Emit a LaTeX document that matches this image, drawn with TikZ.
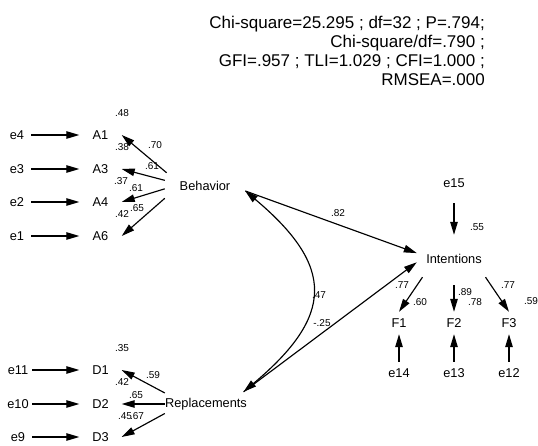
\documentclass[tikz,border=0pt]{standalone}
\usepackage{fontspec}
\setmainfont{Liberation Sans}
\usetikzlibrary{arrows.meta}

\tikzset{
    arr/.style={-{Triangle[length=13pt,width=7.5pt]}, line width=1.15pt},
    cov/.style={{Triangle[length=13pt,width=7.5pt]}-{Triangle[length=13pt,width=7.5pt]}, line width=1.15pt},
    obsbox/.style={minimum width=42pt, minimum height=22pt, inner sep=0pt, font=\fontsize{12.8}{14}\selectfont},
    errnode/.style={minimum width=28pt, minimum height=22pt, inner sep=0pt, font=\fontsize{12.8}{14}\selectfont},
    latent/.style={minimum width=80pt, minimum height=26pt, inner sep=0pt, font=\fontsize{12.8}{14}\selectfont},
    coef/.style={inner sep=0pt, font=\fontsize{10}{11}\selectfont}
}

\begin{document}
\begin{tikzpicture}[x=1pt, y=-1pt]
    \useasboundingbox (0,0) rectangle (538,446);

    % Fit indices
    \node[anchor=north east, inner sep=0pt, align=right, font=\fontsize{17}{19.3}\selectfont] (fit) at (485,15.5)
        {Chi-square=25.295 ; df=32 ; P=.794;\\ Chi-square/df=.790 ;\\ GFI=.957 ; TLI=1.029 ; CFI=1.000 ;\\ RMSEA=.000};

    % Latent variables
    \node[latent] (beh) at (205,186) {Behavior};
    \node[latent, minimum width=82pt, minimum height=24pt] (rep) at (206,404) {Replacements};
    \node[latent, minimum width=74pt, minimum height=36pt] (int) at (454,259) {Intentions};

    % Indicators and their errors
    \foreach \n/\lbl/\err/\y in {a1/A1/e4/135, a3/A3/e3/169, a4/A4/e2/202, a6/A6/e1/236} {
        \node[obsbox] (\n) at (100.5,\y) {\lbl};
        \node[errnode] (\err) at (17,\y) {\err};
        \draw[arr] (\err) -- (\n);
    }
    \foreach \n/\lbl/\err/\y in {d1/D1/e11/370, d2/D2/e10/404, d3/D3/e9/437} {
        \node[obsbox] (\n) at (100.5,\y) {\lbl};
        \node[errnode] (\err) at (18,\y) {\err};
        \draw[arr] (\err) -- (\n);
    }
    \foreach \n/\lbl/\err/\x in {f1/F1/e14/399, f2/F2/e13/454, f3/F3/e12/509} {
        \node[obsbox] (\n) at (\x,323) {\lbl};
        \node[errnode] (\err) at (\x,373) {\err};
        \draw[arr] (\err) -- (\n);
    }
    \node[errnode] (e15) at (454,183) {e15};

    % Loadings
    \foreach \ang/\n in {161/a1, 172/a3, 184/a4, 197/a6}
        \draw[arr] (beh.\ang) -- (\n.east);
    \foreach \ang/\n in {165/d1, 180/d2, 193/d3}
        \draw[arr] (rep.\ang) -- (\n.east);
    \draw[arr] (int.210) -- (f1.north);
    \draw[arr, shorten <=8pt] (int.south) -- (f2.north);
    \draw[arr] (int.330) -- (f3.north);

    % Structural paths
    \draw[arr] (beh.353) -- (int.171);
    \draw[arr] (rep.18) -- (int.185);
    \draw[arr, shorten <=9pt, shorten >=6pt] (e15) -- (int);
    \draw[cov] (beh.353) to[out=-40, in=40, looseness=1.5] (rep.18);

    % Estimates
    \node[coef] (r48) at (122,113) {.48};
    \node[coef] (w70) at (155,145) {.70};
    \node[coef] (r38) at (122,147) {.38};
    \node[coef] (w61a) at (152,166) {.61};
    \node[coef] (r37) at (121,181) {.37};
    \node[coef] (w61b) at (136,188) {.61};
    \node[coef] (r42a) at (122,214) {.42};
    \node[coef] (w65a) at (137,208) {.65};
    \node[coef] (r35) at (122,348) {.35};
    \node[coef] (w59) at (153,375) {.59};
    \node[coef] (r42b) at (122,382) {.42};
    \node[coef] (w65b) at (136,395) {.65};
    \node[coef] (r45) at (125,416) {.45};
    \node[coef] (w67) at (137,416) {.67};
    \node[coef] (b82) at (338,213) {.82};
    \node[coef] (c47) at (319,295) {.47};
    \node[coef] (b25) at (322,323) {-.25};
    \node[coef] (r55) at (477,227) {.55};
    \node[coef] (w77a) at (402,285) {.77};
    \node[coef] (r60) at (420,302) {.60};
    \node[coef] (w89) at (465,292) {.89};
    \node[coef] (r78) at (475,302) {.78};
    \node[coef] (w77b) at (508,285) {.77};
    \node[coef] (r59) at (531,301) {.59};
\end{tikzpicture}
\end{document}
